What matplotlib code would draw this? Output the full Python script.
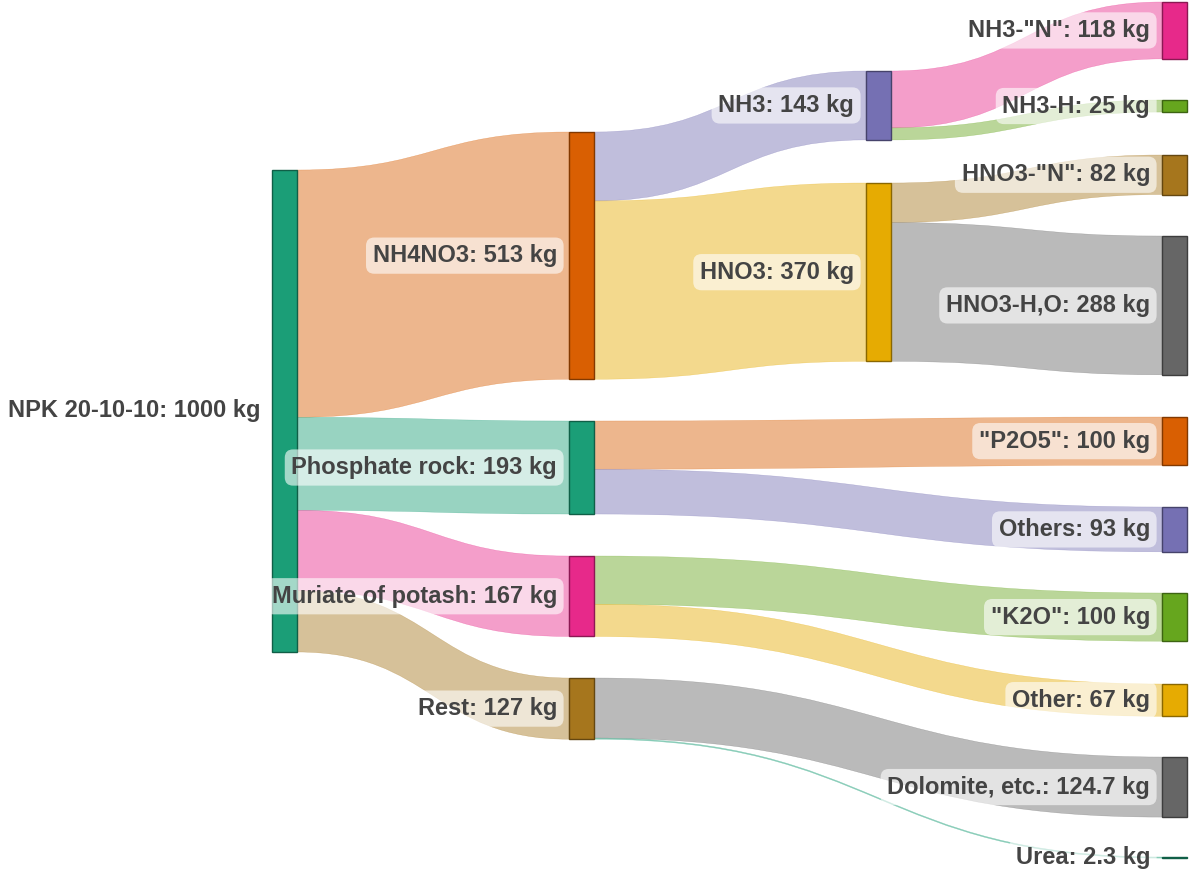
import matplotlib
matplotlib.use("Agg")
import matplotlib.pyplot as plt
from matplotlib.colors import to_rgb
from matplotlib.path import Path
from matplotlib.patches import PathPatch, Rectangle

# ---- data -------------------------------------------------------------
node_names = [
    "NPK 20-10-10", "NH4NO3", "Phosphate rock", "Muriate of potash", "Rest",
    "NH3", "HNO3", 'NH3-"N"', "NH3-H", 'HNO3-"N"', "HNO3-H,O",
    '"P2O5"', "Others", '"K2O"', "Other", "Dolomite, etc.", "Urea",
]
node_colors = [
    "#1b9e77", "#d95f02", "#1b9e77", "#e7298a", "#a6761d",
    "#7570b3", "#e6ab02", "#e7298a", "#66a61e", "#a6761d", "#666666",
    "#d95f02", "#7570b3", "#66a61e", "#e6ab02", "#666666", "#1b9e77",
]
link_source = [0, 0, 0, 0, 1, 1, 5, 5, 6, 6, 2, 2, 3, 3, 4, 4]
link_target = [1, 2, 3, 4, 5, 6, 7, 8, 9, 10, 11, 12, 13, 14, 15, 16]
link_value = [513, 193, 167, 127, 143, 370, 118, 25, 82, 288,
              100, 93, 100, 67, 124.7, 2.3]

# ---- layout (figure pixels) --------------------------------------------
W, H = 1189, 875
node_column = [0, 1, 1, 1, 1, 2, 2, 3, 3, 3, 3, 3, 3, 3, 3, 3, 3]
column_x = [272, 569, 866, 1162]
node_width = 25
node_top = [170, 132, 421, 556, 678, 71, 183, 2, 100, 155, 236,
            417, 507, 593, 684, 757, 857]
px_per_kg = 0.482
link_alpha = 0.45

plt.rcParams["font.family"] = ["Liberation Sans", "DejaVu Sans"]

fig = plt.figure(figsize=(W / 100, H / 100), dpi=100)
ax = fig.add_axes([0, 0, 1, 1])
ax.set_xlim(0, W)
ax.set_ylim(H, 0)
ax.axis("off")

n = len(node_names)
inflow = [0.0] * n
outflow = [0.0] * n
for s, t, v in zip(link_source, link_target, link_value):
    outflow[s] += v
    inflow[t] += v
node_value = [max(a, b) for a, b in zip(inflow, outflow)]
node_h = [v * px_per_kg for v in node_value]

# links: cubic bands with horizontal tangents at both ends
out_off = [0.0] * n
in_off = [0.0] * n
for s, t, v in zip(link_source, link_target, link_value):
    h = v * px_per_kg
    x0 = column_x[node_column[s]] + node_width
    x1 = column_x[node_column[t]]
    y0 = node_top[s] + out_off[s]
    y1 = node_top[t] + in_off[t]
    out_off[s] += h
    in_off[t] += h
    xm = (x0 + x1) / 2
    verts = [
        (x0, y0), (xm, y0), (xm, y1), (x1, y1),
        (x1, y1 + h),
        (xm, y1 + h), (xm, y0 + h), (x0, y0 + h),
        (x0, y0),
    ]
    codes = [Path.MOVETO, Path.CURVE4, Path.CURVE4, Path.CURVE4,
             Path.LINETO,
             Path.CURVE4, Path.CURVE4, Path.CURVE4,
             Path.CLOSEPOLY]
    ax.add_patch(PathPatch(Path(verts, codes), facecolor=node_colors[t],
                           alpha=link_alpha, edgecolor=node_colors[t],
                           linewidth=0.3, zorder=1))

# nodes and labels
for i in range(n):
    x = column_x[node_column[i]]
    edge = tuple(c * 0.6 for c in to_rgb(node_colors[i]))
    ax.add_patch(Rectangle((x, node_top[i]), node_width, max(node_h[i], 1.0),
                           facecolor=node_colors[i], edgecolor=edge,
                           linewidth=1.0, zorder=2))
    label = f"{node_names[i]}: {node_value[i]:g} kg"
    ax.text(x - 12, node_top[i] + node_h[i] / 2, label,
            ha="right", va="center", fontsize=17, fontweight="bold",
            color="#444444", zorder=3,
            bbox=dict(boxstyle="round,pad=0.28,rounding_size=0.35",
                      facecolor="white", edgecolor="none", alpha=0.6))

fig.savefig("out.png", dpi=100)
